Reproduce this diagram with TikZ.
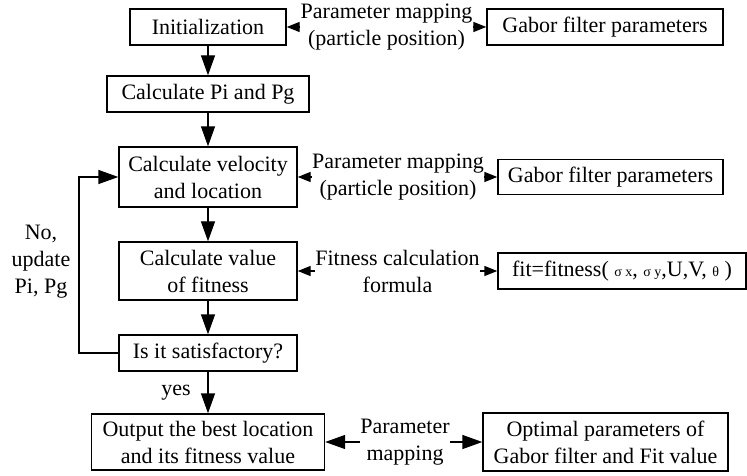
\documentclass[tikz,border=0pt]{standalone}
\usepackage{fontspec}
\setmainfont{Liberation Serif}
\usetikzlibrary{arrows.meta}
\tikzset{caja/.style={rectangle,draw=black,line width=0.7pt,inner sep=0pt,align=center},
  etiq/.style={inner sep=0pt,align=center},
  flecha/.style={-{Triangle[length=10pt,width=7pt]},line width=0.7pt},
  flechita/.style={-{Triangle[length=6.5pt,width=5pt]},line width=0.7pt}}
\newcommand{\chico}[1]{{\fontsize{7}{8}\selectfont #1}}

\begin{document}
\begin{tikzpicture}[x=0.5pt,y=-0.5pt,font=\fontsize{11}{13.5}\selectfont]
  \useasboundingbox (0,0) rectangle (747,475);
  \node[caja,minimum width=78pt,minimum height=18pt] (ini) at (208,27){Initialization};
  \node[caja,minimum width=101pt,minimum height=18pt] (cp) at (208,94){Calculate Pi and Pg};
  \node[caja,minimum width=89pt,minimum height=30pt] (cv) at (208,177){Calculate velocity\\and location};
  \node[caja,minimum width=89pt,minimum height=29pt] (cf) at (208,271){Calculate value\\of fitness};
  \node[caja,minimum width=89pt,minimum height=18pt] (sa) at (208,353){Is it satisfactory?};
  \node[caja,minimum width=116.5pt,minimum height=28pt] (ou) at (208,442){Output the best location\\and its fitness value};
  \node[caja,minimum width=118pt,minimum height=18pt] (g1) at (605,27){Gabor filter parameters};
  \node[caja,minimum width=112.5pt,minimum height=17.5pt] (g2) at (610.5,177){Gabor filter parameters};
  \node[caja,minimum width=124pt,minimum height=18pt] (fo) at (622,271){fit=fitness( \chico{σ x}, \chico{σ y},U,V, \chico{θ} )};
  \node[caja,minimum width=122.5pt,minimum height=29pt] (op) at (605.5,442){Optimal parameters of\\Gabor filter and Fit value};
  \node[etiq] (l1) at (386.5,27){Parameter mapping\\(particle position)};
  \node[etiq] (l2) at (398,177){Parameter mapping\\(particle position)};
  \node[etiq] (l3) at (397.5,271){Fitness calculation\\formula};
  \node[etiq] (l4) at (405,442){Parameter\\mapping};
  \node[etiq] (yes) at (176,393){yes};
  \node[etiq] (no) at (41,262){No,\\update\\Pi, Pg};
  \coordinate (vuelta) at (79,353);
     \draw[flecha] (ini) -- (cp);
     \draw[flecha] (cp) -- (cv);
     \draw[flecha] (cv) -- (cf);
     \draw[flecha] (cf) -- (sa);
     \draw[flecha] (sa) -- (ou);
     \draw[flecha] (sa.west) -- (vuelta) |- (cv.west);
     \draw[flechita] (l1) -- (ini);
     \draw[flechita] (l1) -- (g1);
     \draw[flechita] (l2) -- (cv);
     \draw[flechita] (l2) -- (g2);
     \draw[flechita] (l3) -- (cf);
     \draw[flechita] (l3) -- (fo);
     \draw[flecha] (l4) -- (ou);
     \draw[flecha] (l4) -- (op);
\end{tikzpicture}
\end{document}
